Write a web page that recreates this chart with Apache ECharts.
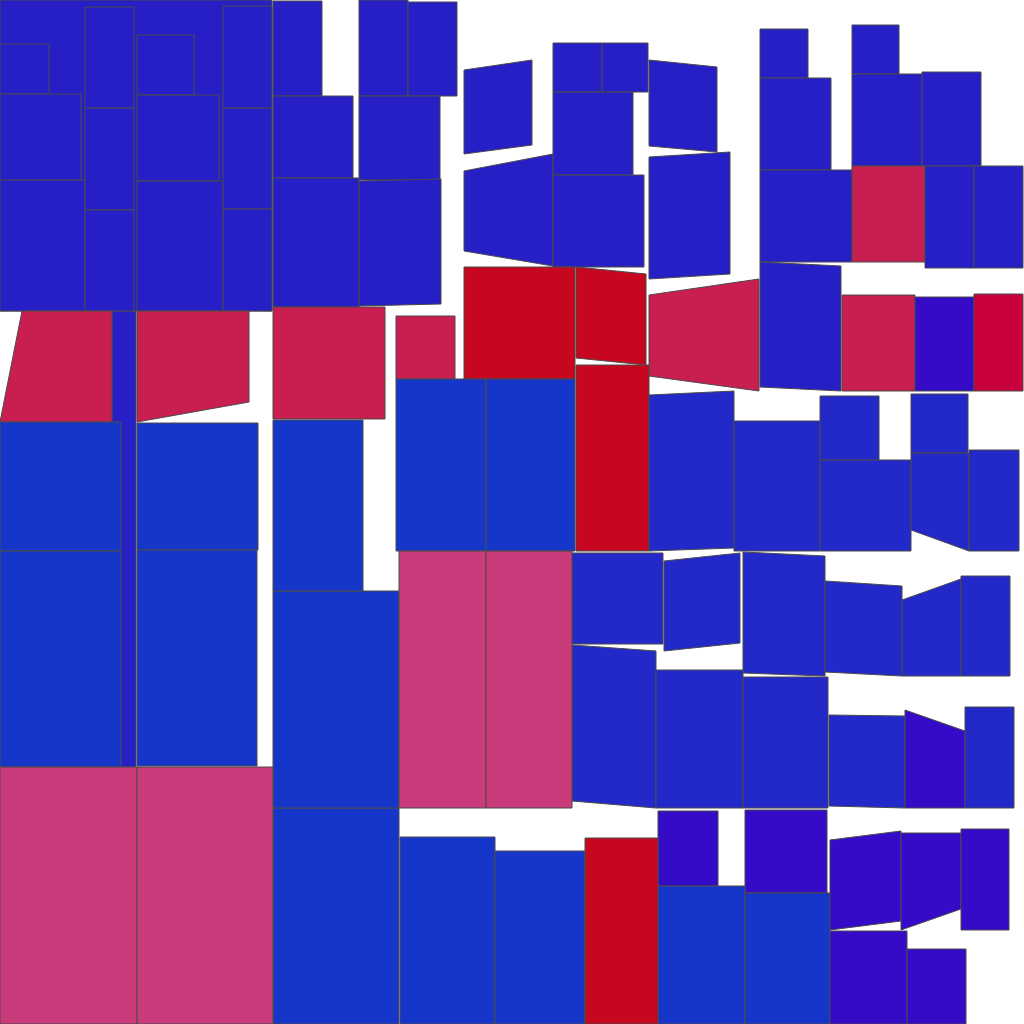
<!DOCTYPE html>
<html>
<head>
<meta charset="utf-8">
<style>html,body{margin:0;padding:0;background:#fff}#chart{width:1024px;height:1024px}</style>
<script src="https://cdn.jsdelivr.net/npm/echarts@6/dist/echarts.min.js"></script>
</head>
<body>
<div id="chart"></div>
<script>
// Corner x values of each quadrilateral (TL, TR, BR, BL)
const shapeXs = [
[0,272,272,0],[112,136,136,112],
[0,49,49,0],[0,81,81,0],[0,85,85,0],[85,134,134,85],[85,134,134,85],[85,134,134,85],
[137,194,194,137],[137,219,219,137],[137,223,223,137],[223,272,272,223],[223,272,272,223],[223,272,272,223],
[273,322,322,273],[273,353,353,273],[273,359,359,273],[359,408,408,359],[408,457,457,408],[359,440,440,359],[359,441,441,359],
[464,532,532,464],[464,553,553,464],[553,602,602,553],[602,648,648,602],[553,633,633,553],[553,644,644,553],
[649,717,717,649],[649,730,730,649],
[464,575,575,464],[576,646,646,576],[576,649,649,576],
[273,385,385,273],[396,455,455,396],[649,759,759,649],
[760,808,808,760],[760,831,831,760],[760,852,852,760],[760,841,841,760],
[852,899,899,852],[852,922,922,852],[922,981,981,922],[852,925,925,852],[925,974,974,925],[974,1023,1023,974],
[842,915,915,842],[915,974,974,915],[974,1023,1023,974],
[649,734,734,649],[734,820,820,734],[820,879,879,820],[820,911,911,820],[911,968,968,911],[911,969,969,911],[969,1019,1019,969],
[572,663,663,572],[664,740,740,664],[572,656,656,572],[743,825,825,743],[825,902,902,825],[902,961,961,902],[961,1010,1010,961],
[656,743,743,656],[743,828,828,743],[829,905,905,829],[905,965,965,905],[965,1014,1014,965],
[658,718,718,658],[745,827,827,745],[658,745,745,658],[745,830,830,745],
[830,901,901,830],[901,961,961,901],[961,1009,1009,961],[830,907,907,830],[907,966,966,907],
[273,399,399,273],[273,399,399,273],[273,363,363,273],[396,486,486,396],[486,575,575,486],
[399,486,486,399],[486,572,572,486],[400,495,495,400],[495,585,585,495],[585,658,658,585],
[22,112,112,0],[137,249,249,137],[0,121,121,0],[0,121,121,0],[137,258,258,137],[137,257,257,137],
[0,137,137,0],[137,273,273,137]
];
// Corner y values of each quadrilateral (TL, TR, BR, BL)
const shapeYs = [
[0,0,311,311],[311,311,767,767],
[44,44,94,94],[94,94,180,180],[180,180,311,311],[7,7,108,108],[108,108,210,210],[210,210,311,311],
[35,35,95,95],[95,95,181,181],[181,181,311,311],[6,6,108,108],[108,108,209,209],[209,209,311,311],
[1,1,96,96],[96,96,178,178],[178,178,307,307],[0,0,96,96],[2,2,96,96],[96,96,180,180],[181,179,304,306],
[70,60,145,154],[171,154,266,251],[43,43,92,92],[43,43,92,92],[92,92,175,175],[175,175,267,267],
[60,67,152,146],[157,152,274,279],
[267,267,379,379],[267,274,365,358],[365,365,551,551],
[307,307,419,419],[316,316,379,379],[295,279,391,376],
[29,29,78,78],[78,78,170,170],[170,170,262,262],[262,266,391,387],
[25,25,74,74],[74,74,166,166],[72,72,166,166],[166,166,262,262],[166,166,268,268],[166,166,268,268],
[295,295,391,391],[297,297,391,391],[294,294,391,391],
[395,391,548,551],[421,421,551,551],[396,396,460,460],[460,460,551,551],[394,394,453,453],[453,453,551,530],[450,450,551,551],
[553,553,644,644],[561,553,643,651],[645,651,808,801],[552,556,676,673],[581,586,676,672],[600,579,676,676],[576,576,676,676],
[670,670,808,808],[677,677,808,808],[715,716,808,806],[710,731,808,808],[707,707,808,808],
[811,811,886,886],[810,810,893,893],[886,886,1024,1024],[893,893,1024,1024],
[840,831,921,930],[833,833,909,930],[829,829,930,930],[931,931,1024,1024],[949,949,1024,1024],
[808,808,1024,1024],[591,591,808,808],[420,420,591,591],[379,379,551,551],[379,379,551,551],
[551,551,808,808],[551,551,808,808],[837,837,1024,1024],[851,851,1024,1024],[838,838,1024,1024],
[311,311,422,422],[311,311,402,422],[422,422,551,551],[551,551,767,767],[423,423,550,550],[550,550,766,766],
[767,767,1024,1024],[767,767,1024,1024]
];
// Category of each shape
const shapeGroups = [
'A','A',
'A','A','A','A','A','A',
'A','A','A','A','A','A',
'A','A','A','A','A','A','A',
'A','A','A','A','A','A',
'A','A',
'E','E','E',
'B','B','B',
'A','A','A','A',
'A','A','A','B','A','A',
'B','F','G',
'H','H','H','H','H','H','H',
'H','H','H','H','H','H','H',
'H','H','H','F','H',
'F','F','C','C',
'F','F','F','F','F',
'C','C','C','C','C',
'D','D','C','C','E',
'B','B','C','C','C','C',
'D','D'
];
const palette = {A:'#261fc6',B:'#c91f50',C:'#1636c9',D:'#c93b7a',E:'#c70620',F:'#360bc8',G:'#c8003c',H:'#2329c8'};

const data = shapeXs.map((xs, i) => {
  const ys = shapeYs[i];
  return {value:[xs[0],ys[0],xs[1],ys[1],xs[2],ys[2],xs[3],ys[3]], group: shapeGroups[i]};
});

const chart = echarts.init(document.getElementById('chart'), null, {renderer:'canvas'});
chart.setOption({
  animation:false,
  grid:{left:0,right:0,top:0,bottom:0},
  xAxis:{type:'value',min:0,max:1024,show:false},
  yAxis:{type:'value',min:0,max:1024,inverse:true,show:false},
  series:[{
    type:'custom',
    encode:{x:[0,2,4,6],y:[1,3,5,7]},
    data:data,
    renderItem:function(params, api){
      const pts = [];
      for (let k=0;k<4;k++) pts.push(api.coord([api.value(2*k), api.value(2*k+1)]));
      const g = data[params.dataIndex].group;
      return {type:'polygon', shape:{points:pts}, style:{fill:palette[g], stroke:'#4a4a4a', lineWidth:1}};
    }
  }]
});
</script>
</body>
</html>
